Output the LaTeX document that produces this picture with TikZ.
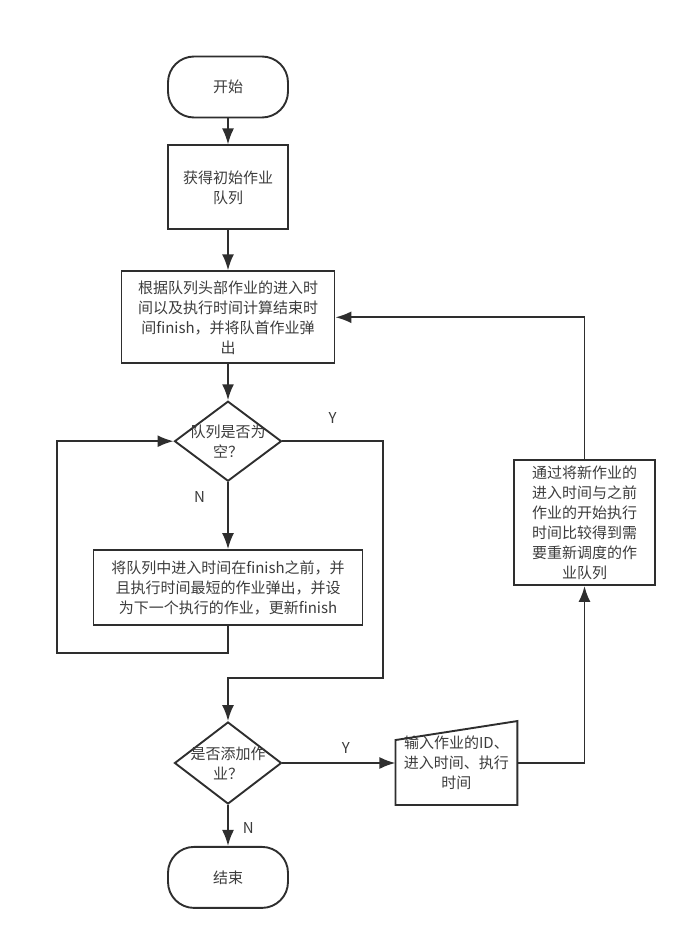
\documentclass[tikz,border=0pt]{standalone}
\usepackage{fontspec}
\setmainfont{Noto Sans CJK SC}
\usepackage{xcolor}
\usetikzlibrary{shapes.geometric,arrows.meta,positioning}
\definecolor{ln}{HTML}{2E2E2E}
\definecolor{tx}{HTML}{3C3C3C}
\tikzset{
    >={Latex[length=16pt,width=12pt]},
    term/.style ={rectangle, rounded corners=26pt, draw, text=tx, minimum width=120pt, minimum height=61pt},
    box/.style = {rectangle, draw, align=center, inner sep=3pt, text=tx},
    dec/.style = {diamond, draw, inner sep=0pt, minimum width=107pt, minimum height=80pt},
    inlbl/.style = {align=center, text=tx},
    yn/.style = {inner sep=0pt, text=tx}
}

\begin{document}
\begin{tikzpicture}[x=1pt,y=-1pt,->,line width=1.9pt,color=ln,font=\fontsize{15}{20}\selectfont]
        \useasboundingbox (0,0) rectangle (693,934);
        \node[term] (1) at (228,87) {开始};
        \node[box, minimum width=120pt, minimum height=84pt] (2) [below =26pt of 1] {获得初始作业\\队列};
        \node[box, minimum width=213pt, minimum height=92pt] (3) [below =40pt of 2] {根据队列头部作业的进入时\\间以及执行时间计算结束时\\间finish，并将队首作业弹\\出};
        \node[dec, label={[inlbl]center:队列是否为\\空？}] (4) [below =36pt of 3] {};
        \node[box, minimum width=269pt, minimum height=75pt] (5) [below =67pt of 4] {将队列中进入时间在finish之前，并\\且执行时间最短的作业弹出，并设\\为下一个执行的作业，更新finish};
        \node[dec, minimum height=82pt, label={[inlbl]center:是否添加作\\业？}] (6) [below =95pt of 5] {};
        \node[term] (7) [below =41pt of 6] {结束};
        \node[inlbl, inner sep=0pt, minimum width=120pt, minimum height=82pt] (8) [right =113pt of 6] {输入作业的ID、\\进入时间、执行\\时间};
        \draw[-] (8.south west) -- (8.south east) -- (8.north east) -- ([shift={(0,19)}]8.north west) -- cycle;
        \node[box, minimum width=141pt, minimum height=125pt] (9) at (584.5,522.5) {通过将新作业的\\进入时间与之前\\作业的开始执行\\时间比较得到需\\要重新调度的作\\业队列};
        \coordinate (c1) at (383,678);
        \coordinate (c2) at (57,653);

        \path (1) edge (2);
        \path (2) edge (3);
        \path (3) edge (4);
        \path (4) edge node[yn, pos=0.22, left=22pt] (n1) {N} (5);
        \draw (4.east) -| node[yn, pos=0.25, above=17pt] (y1) {Y} (c1) -| (6.north);
        \draw (5.south) |- (c2) |- (4.west);
        \path (6) edge node[yn, pos=0.56, above=9pt] (y2) {Y} (8);
        \path (6) edge node[yn, pos=0.57, right=14pt] (n2) {N} (7);
        \draw (8.east) -| (9.south);
        \draw (9.north) |- (3.east);

    \end{tikzpicture}
\end{document}
